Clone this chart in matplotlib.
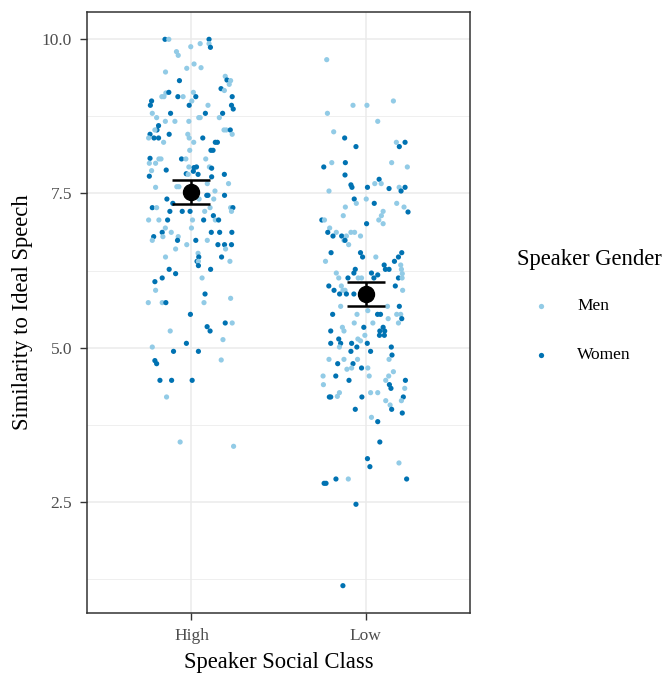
import matplotlib.pyplot as plt
from matplotlib.lines import Line2D

# speaker social class on x, similarity score on y
classes = ['High', 'Low']
gender_labels = ['Men', 'Women']
gender_colors = {'M': '#92cbe6', 'W': '#0072b2'}

# mean and interval per class
mean_score = [7.52, 5.87]
ci_lower = [7.33, 5.68]
ci_upper = [7.72, 6.07]

# (jitter offset, score, gender)
high_points = [
    (-0.152, 10.00, 'W'), (-0.130, 10.00, 'M'), (0.101, 10.00, 'W'), (-0.004, 9.88, 'M'),
    (0.050, 9.93, 'M'), (0.101, 9.93, 'M'), (0.109, 9.87, 'W'), (-0.086, 9.80, 'M'),
    (-0.076, 9.74, 'M'), (0.015, 9.60, 'M'), (-0.027, 9.53, 'M'), (0.055, 9.54, 'M'),
    (-0.149, 9.47, 'M'), (-0.069, 9.33, 'W'), (0.194, 9.40, 'M'), (0.204, 9.34, 'W'),
    (0.225, 9.33, 'M'), (0.217, 9.27, 'M'), (0.170, 9.20, 'W'), (0.189, 9.17, 'M'),
    (-0.147, 9.13, 'M'), (-0.130, 9.14, 'W'), (0.011, 9.14, 'M'), (-0.170, 9.07, 'M'),
    (-0.158, 9.07, 'M'), (-0.078, 9.07, 'W'), (-0.048, 9.07, 'M'), (0.025, 9.07, 'W'),
    (-0.229, 9.00, 'W'), (0.002, 9.00, 'M'), (-0.013, 8.93, 'W'), (-0.236, 8.93, 'W'),
    (0.095, 8.93, 'M'), (0.234, 9.07, 'W'), (0.230, 8.93, 'W'), (0.240, 8.87, 'W'),
    (-0.225, 8.80, 'M'), (-0.120, 8.80, 'W'), (0.080, 8.80, 'W'), (0.179, 8.80, 'W'),
    (-0.200, 8.73, 'M'), (0.042, 8.73, 'M'), (0.050, 8.73, 'M'), (0.160, 8.73, 'M'),
    (-0.150, 8.67, 'M'), (-0.095, 8.67, 'M'), (-0.015, 8.67, 'M'), (-0.189, 8.60, 'W'),
    (-0.198, 8.53, 'W'), (-0.210, 8.53, 'M'), (0.187, 8.53, 'M'), (0.200, 8.53, 'M'),
    (0.223, 8.53, 'W'), (0.234, 8.46, 'M'), (-0.238, 8.46, 'W'), (-0.128, 8.46, 'W'),
    (-0.021, 8.46, 'M'), (-0.246, 8.40, 'M'), (-0.215, 8.40, 'W'), (-0.189, 8.40, 'W'),
    (-0.013, 8.40, 'M'), (0.065, 8.40, 'W'), (0.149, 8.33, 'W'), (0.137, 8.33, 'W'),
    (-0.160, 8.33, 'M'), (0.013, 8.33, 'M'), (-0.010, 8.20, 'M'), (0.112, 8.20, 'W'),
    (0.124, 8.20, 'W'), (-0.238, 8.07, 'W'), (-0.187, 8.06, 'M'), (-0.175, 8.06, 'M'),
    (-0.057, 8.06, 'W'), (-0.032, 8.06, 'M'), (0.082, 8.06, 'M'), (-0.242, 7.99, 'M'),
    (-0.206, 7.99, 'M'), (-0.145, 7.88, 'W'), (-0.015, 7.93, 'M'), (0.015, 7.92, 'W'),
    (0.029, 7.93, 'W'), (0.103, 7.93, 'M'), (0.116, 7.91, 'W'),
    (-0.229, 7.87, 'M'), (-0.242, 7.78, 'W'), (-0.030, 7.82, 'W'), (-0.019, 7.81, 'M'),
    (0.011, 7.86, 'W'), (0.038, 7.81, 'W'), (0.116, 7.77, 'W'), (0.189, 7.81, 'W'),
    (-0.072, 7.61, 'M'), (-0.084, 7.61, 'M'), (-0.206, 7.60, 'M'), (0.091, 7.66, 'M'),
    (0.213, 7.66, 'M'), (0.135, 7.54, 'M'), (0.088, 7.47, 'W'), (0.095, 7.47, 'W'),
    (0.190, 7.47, 'W'), (-0.141, 7.41, 'W'), (-0.107, 7.34, 'W'), (0.044, 7.41, 'M'),
    (0.128, 7.41, 'M'), (-0.225, 7.27, 'W'), (-0.200, 7.27, 'M'), (0.107, 7.27, 'M'),
    (0.225, 7.27, 'M'), (0.238, 7.27, 'W'), (0.230, 7.21, 'M'), (-0.124, 7.21, 'W'),
    (-0.053, 7.21, 'W'), (-0.008, 7.21, 'W'), (0.076, 7.21, 'M'), (0.126, 7.14, 'W'),
    (-0.246, 7.07, 'M'), (-0.187, 7.07, 'M'), (-0.137, 7.07, 'W'), (0.006, 7.07, 'M'),
    (0.070, 7.07, 'W'), (0.137, 7.07, 'M'), (0.156, 7.07, 'W'), (0.000, 6.94, 'M'),
    (-0.150, 6.94, 'M'), (-0.168, 6.87, 'W'), (-0.116, 6.87, 'M'), (0.114, 6.87, 'W'),
    (0.162, 6.87, 'W'), (0.232, 6.87, 'W'), (-0.217, 6.80, 'W'), (-0.164, 6.80, 'M'),
    (-0.076, 6.80, 'M'), (-0.225, 6.74, 'M'), (-0.080, 6.74, 'W'), (0.025, 6.74, 'W'),
    (0.091, 6.74, 'M'), (-0.027, 6.67, 'M'), (0.152, 6.67, 'W'), (0.190, 6.67, 'W'),
    (0.230, 6.67, 'W'), (-0.091, 6.60, 'M'), (0.196, 6.60, 'M'), (0.038, 6.53, 'M'),
    (0.042, 6.47, 'W'), (-0.149, 6.47, 'M'), (0.173, 6.47, 'W'), (0.032, 6.40, 'W'),
    (0.040, 6.40, 'M'), (0.221, 6.40, 'M'), (0.040, 6.33, 'W'), (-0.128, 6.27, 'W'),
    (0.110, 6.27, 'W'), (-0.091, 6.20, 'W'), (-0.168, 6.13, 'W'), (0.061, 6.13, 'M'),
    (-0.210, 6.07, 'W'), (-0.206, 5.93, 'M'), (0.078, 5.87, 'W'), (0.225, 5.80, 'M'),
    (-0.248, 5.73, 'M'), (-0.168, 5.73, 'M'), (-0.147, 5.73, 'W'), (0.072, 5.73, 'M'),
    (-0.006, 5.54, 'W'), (0.194, 5.40, 'W'), (0.234, 5.40, 'M'), (0.090, 5.34, 'W'),
    (0.107, 5.27, 'W'), (-0.122, 5.27, 'M'), (0.181, 5.13, 'M'), (-0.029, 5.07, 'W'),
    (-0.225, 5.01, 'M'), (-0.103, 4.94, 'W'), (0.040, 4.94, 'W'), (-0.210, 4.79, 'W'),
    (-0.200, 4.74, 'W'), (0.171, 4.80, 'M'), (-0.181, 4.47, 'W'), (-0.114, 4.47, 'W'),
    (0.004, 4.47, 'W'), (-0.143, 4.20, 'M'), (-0.065, 3.47, 'M'), (0.242, 3.40, 'M'),
]

low_points = [
    (-0.223, 9.67, 'M'), (-0.072, 8.93, 'M'), (0.008, 8.93, 'M'), (0.160, 9.00, 'M'),
    (-0.219, 8.80, 'M'), (0.070, 8.67, 'M'), (-0.183, 8.50, 'M'), (-0.120, 8.40, 'W'),
    (-0.055, 8.26, 'W'), (0.177, 8.33, 'M'), (0.227, 8.33, 'W'), (0.194, 8.26, 'W'),
    (-0.240, 7.93, 'W'), (-0.194, 8.00, 'M'), (-0.116, 8.00, 'W'), (0.150, 8.00, 'M'),
    (0.240, 7.93, 'M'), (-0.118, 7.80, 'W'), (0.078, 7.73, 'W'), (0.053, 7.66, 'M'),
    (0.090, 7.66, 'M'), (-0.084, 7.64, 'W'), (-0.078, 7.60, 'W'), (0.011, 7.60, 'W'),
    (0.135, 7.58, 'W'), (0.193, 7.60, 'M'), (0.227, 7.60, 'W'),
    (-0.210, 7.54, 'M'), (0.204, 7.54, 'W'), (-0.065, 7.41, 'W'), (-0.053, 7.34, 'M'),
    (-0.116, 7.28, 'M'), (0.004, 7.41, 'M'), (0.050, 7.34, 'W'), (0.179, 7.34, 'M'),
    (0.221, 7.28, 'M'), (0.244, 7.20, 'W'), (0.101, 7.21, 'M'), (0.091, 7.14, 'M'),
    (-0.128, 7.14, 'M'), (-0.251, 7.07, 'W'), (-0.236, 7.07, 'M'), (0.076, 7.07, 'M'),
    (0.101, 7.01, 'M'), (0.006, 7.01, 'W'), (-0.206, 6.94, 'M'), (-0.217, 6.87, 'W'),
    (-0.168, 6.87, 'M'), (-0.084, 6.87, 'M'), (-0.063, 6.87, 'M'), (-0.187, 6.81, 'W'),
    (-0.137, 6.81, 'W'), (-0.110, 6.81, 'M'), (-0.124, 6.74, 'M'), (-0.029, 6.81, 'M'),
    (-0.118, 6.74, 'W'), (-0.097, 6.67, 'M'), (-0.198, 6.54, 'W'), (-0.029, 6.54, 'W'),
    (-0.017, 6.47, 'W'), (0.059, 6.47, 'M'), (0.208, 6.54, 'W'), (0.189, 6.47, 'W'),
    (0.166, 6.40, 'W'), (-0.230, 6.40, 'M'), (0.107, 6.34, 'W'), (0.202, 6.34, 'M'),
    (0.114, 6.27, 'W'), (0.135, 6.27, 'W'), (0.206, 6.27, 'M'), (-0.059, 6.27, 'W'),
    (-0.168, 6.21, 'M'), (-0.067, 6.21, 'W'), (0.034, 6.21, 'W'), (0.070, 6.18, 'W'),
    (0.211, 6.20, 'M'), (-0.154, 6.13, 'M'), (-0.101, 6.13, 'W'), (-0.042, 6.13, 'M'),
    (-0.023, 6.13, 'M'), (0.048, 6.13, 'W'), (0.189, 6.13, 'W'), (0.210, 6.13, 'M'),
    (-0.211, 6.00, 'W'), (-0.181, 5.93, 'W'), (-0.139, 6.00, 'M'), (-0.130, 5.93, 'M'),
    (-0.118, 5.93, 'M'), (-0.149, 5.87, 'W'), (-0.067, 5.87, 'W'), (-0.110, 5.87, 'W'),
    (0.171, 6.00, 'W'), (0.213, 5.93, 'M'), (-0.143, 5.67, 'M'), (0.126, 5.67, 'M'),
    (0.194, 5.67, 'W'), (-0.189, 5.54, 'W'), (-0.049, 5.54, 'M'), (0.013, 5.60, 'M'),
    (0.069, 5.54, 'W'), (0.086, 5.54, 'W'), (0.179, 5.54, 'M'), (0.202, 5.54, 'M'),
    (0.208, 5.47, 'W'), (0.130, 5.47, 'M'), (-0.065, 5.40, 'M'), (-0.010, 5.33, 'W'),
    (-0.133, 5.33, 'M'), (0.101, 5.33, 'W'), (0.042, 5.40, 'M'), (0.189, 5.40, 'M'),
    (-0.200, 5.27, 'W'), (-0.124, 5.27, 'M'), (0.082, 5.27, 'W'), (0.110, 5.27, 'W'),
    (0.080, 5.20, 'W'), (0.108, 5.20, 'W'), (-0.154, 5.14, 'W'), (-0.143, 5.07, 'W'),
    (-0.150, 5.01, 'M'), (-0.200, 5.07, 'W'), (-0.080, 5.07, 'W'), (-0.044, 5.14, 'M'),
    (-0.029, 5.11, 'M'), (-0.004, 5.20, 'M'), (0.010, 5.07, 'W'), (-0.050, 5.01, 'W'),
    (0.148, 5.01, 'W'), (-0.084, 4.94, 'W'), (0.029, 4.94, 'W'), (0.152, 4.88, 'W'),
    (0.135, 4.81, 'M'), (-0.210, 4.81, 'M'), (-0.124, 4.81, 'M'), (-0.160, 4.74, 'W'),
    (-0.072, 4.74, 'W'), (-0.046, 4.81, 'M'), (-0.023, 4.67, 'W'), (0.013, 4.67, 'M'),
    (-0.107, 4.65, 'M'), (-0.080, 4.67, 'M'), (0.160, 4.61, 'M'), (0.133, 4.54, 'M'),
    (-0.244, 4.54, 'M'), (-0.171, 4.54, 'W'), (0.021, 4.54, 'M'), (0.116, 4.47, 'M'),
    (0.229, 4.47, 'W'), (-0.095, 4.47, 'W'), (-0.242, 4.40, 'M'), (0.137, 4.40, 'W'),
    (0.146, 4.34, 'W'), (0.225, 4.34, 'M'), (-0.150, 4.27, 'M'), (0.029, 4.27, 'M'),
    (0.070, 4.27, 'M'), (-0.208, 4.20, 'W'), (-0.200, 4.20, 'W'), (-0.162, 4.21, 'M'),
    (-0.021, 4.20, 'W'), (0.217, 4.20, 'W'), (0.116, 4.14, 'M'), (0.206, 4.14, 'M'),
    (0.141, 4.07, 'M'), (0.150, 4.00, 'W'), (-0.059, 4.00, 'W'), (0.211, 3.94, 'W'),
    (0.034, 3.87, 'M'), (0.070, 3.80, 'W'), (0.082, 3.47, 'W'), (0.011, 3.20, 'W'),
    (0.025, 3.07, 'W'), (0.192, 3.13, 'M'),
    (-0.238, 2.80, 'W'), (-0.227, 2.80, 'W'), (-0.170, 2.87, 'W'), (-0.099, 2.87, 'M'),
    (0.236, 2.87, 'W'), (-0.055, 2.46, 'W'), (-0.130, 1.14, 'W'),
]

plt.rcParams['font.family'] = ['Liberation Serif', 'DejaVu Serif']

fig = plt.figure(figsize=(6.63, 6.73), dpi=100)
ax = fig.add_axes([87 / 663, 1 - 613 / 673, 383 / 663, 601 / 673])

# jittered points
for i, pts in enumerate([high_points, low_points]):
    offset, score, gender = zip(*pts)
    xs = [i + 1 + o for o in offset]
    ax.scatter(xs, score, s=14, c=[gender_colors[g] for g in gender],
               linewidths=0, zorder=3)

# mean with error bars
xpos = [1, 2]
yerr = [[m - lo for m, lo in zip(mean_score, ci_lower)],
        [hi - m for m, hi in zip(mean_score, ci_upper)]]
ax.errorbar(xpos, mean_score, yerr=yerr, fmt='o', color='black', ms=11.5,
            elinewidth=1.8, capsize=13.5, capthick=1.8, zorder=4)

ax.set_xlim(0.4, 2.6)
ax.set_ylim(0.697, 10.443)
ax.set_xticks(xpos)
ax.set_xticklabels(classes)
ax.set_yticks([2.5, 5.0, 7.5, 10.0])
ax.set_yticklabels(['2.5', '5.0', '7.5', '10.0'])
ax.set_yticks([1.25, 3.75, 6.25, 8.75], minor=True)

ax.grid(which='major', color='#ebebeb', linewidth=1.1)
ax.grid(which='minor', axis='y', color='#ebebeb', linewidth=0.55)
ax.set_axisbelow(True)
for sp in ax.spines.values():
    sp.set_color('#333333')
    sp.set_linewidth(1.1)

ax.tick_params(which='major', length=4.8, width=1.0, color='#333333',
               labelsize=12.5, labelcolor='#4d4d4d', pad=6)
ax.tick_params(which='minor', length=0)

ax.set_xlabel('Speaker Social Class', fontsize=16.3)
ax.set_ylabel('Similarity to Ideal Speech', fontsize=16.3)
ax.xaxis.set_label_coords(0.5, -0.065)
ax.yaxis.set_label_coords(-0.140, 0.5)

# legend drawn at the right of the panel
fig.text(517 / 663, 1 - 260 / 673, 'Speaker Gender', fontsize=16.3,
         ha='left', va='center')
for k, (lab, g) in enumerate(zip(gender_labels, ['M', 'W'])):
    yk = 1 - (306 + 49 * k) / 673
    fig.add_artist(Line2D([541 / 663], [yk], marker='o', ms=3.8, lw=0,
                          markeredgewidth=0, color=gender_colors[g],
                          transform=fig.transFigure))
    fig.text(577 / 663, yk, lab, fontsize=12.5, ha='left', va='center')

fig.savefig('out.png', dpi=100)
